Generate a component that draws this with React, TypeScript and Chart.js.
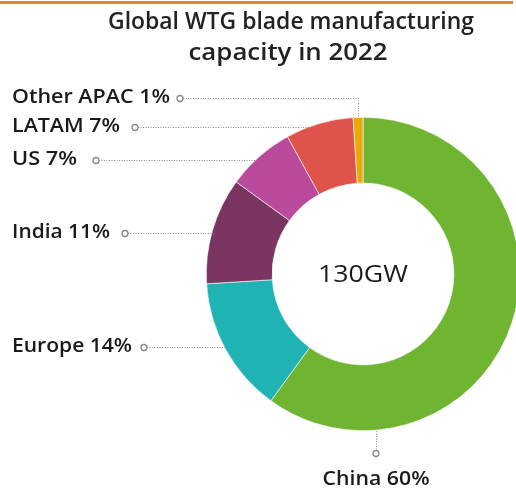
import React, { useEffect, useRef } from "react";
import { Chart, registerables } from "chart.js";

Chart.register(...registerables);

const titleLines = ["Global WTG blade manufacturing", "capacity in 2022"];
const centerLabel = "130GW";
const categories = ["China", "Europe", "India", "US", "LATAM", "Other APAC"];
const shares = [60, 14, 11, 7, 7, 1];
const sliceColors = ["#6FB532", "#20B3B4", "#7A3660", "#BA4A9B", "#DE544A", "#EBA80A"];

// label layout (text positions and rendered widths only)
const labelLayout: Record<string, { y: number; dotX: number; mode: string; w: number }> = {
  "Other APAC": { y: 98, dotX: 180, mode: "elbow", w: 158 },
  LATAM: { y: 127, dotX: 135, mode: "left", w: 108 },
  US: { y: 160, dotX: 96, mode: "left", w: 65 },
  India: { y: 233, dotX: 125, mode: "left", w: 98 },
  Europe: { y: 347, dotX: 144, mode: "left", w: 120 },
  China: { y: 480, dotX: 376, mode: "below", w: 107 },
};

const FONT = "'Open Sans', Lato, 'Noto Sans', sans-serif";

function fitText(ctx: any, txt: string, x: number, y: number, align: string, width: number) {
  const m = ctx.measureText(txt).width;
  const s = width / m;
  ctx.save();
  ctx.textAlign = "left";
  ctx.textBaseline = "middle";
  let left = x;
  if (align === "center") left = x - width / 2;
  ctx.translate(left, y);
  ctx.scale(s, 1);
  ctx.fillText(txt, 0, 0);
  ctx.restore();
}

const overlay = {
  id: "overlay",
  afterDraw(chart: any) {
    const ctx = chart.ctx;
    ctx.save();
    // top orange rule
    ctx.fillStyle = "#F08122";
    ctx.fillRect(0, 1, 513, 3);

    // title
    ctx.fillStyle = "#222";
    ctx.font = `600 23px ${FONT}`;
    fitText(ctx, titleLines[0], 291, 22, "center", 366);
    fitText(ctx, titleLines[1], 288, 53, "center", 199);

    const meta = chart.getDatasetMeta(0);
    const arcs = meta.data as any[];
    const a0 = arcs[0];
    const cx = a0.x;
    const cy = a0.y;
    const R = a0.outerRadius;

    // center text
    ctx.font = `500 24px ${FONT}`;
    ctx.fillStyle = "#1a1a1a";
    fitText(ctx, centerLabel, cx, cy + 1, "center", 90);

    categories.forEach((cat, i) => {
      const lay = labelLayout[cat];
      const arc = arcs[i];
      const txt = `${cat} ${shares[i]}%`;
      ctx.setLineDash([1, 1.5]);
      ctx.strokeStyle = "#8a8a8a";
      ctx.lineWidth = 1;
      ctx.beginPath();
      if (lay.mode === "left") {
        const dy = lay.y - cy;
        const ex = cx - Math.sqrt(Math.max(R * R - dy * dy, 0)) + 2;
        ctx.moveTo(lay.dotX + 3, lay.y + 0.5);
        ctx.lineTo(ex, lay.y + 0.5);
      } else if (lay.mode === "elbow") {
        const mid = (arc.startAngle + arc.endAngle) / 2;
        const px = cx + R * Math.cos(mid);
        const py = cy + R * Math.sin(mid);
        ctx.moveTo(lay.dotX + 3, lay.y + 0.5);
        ctx.lineTo(Math.round(px) + 0.5, lay.y + 0.5);
        ctx.lineTo(Math.round(px) + 0.5, py);
      } else {
        const dx = lay.dotX - cx;
        const ey = cy + Math.sqrt(Math.max(R * R - dx * dx, 0));
        ctx.moveTo(lay.dotX + 0.5, ey + 1);
        ctx.lineTo(lay.dotX + 0.5, lay.y - 30);
      }
      ctx.stroke();
      ctx.setLineDash([]);
      // dot
      const dotY = lay.mode === "below" ? lay.y - 27 : lay.y;
      ctx.beginPath();
      ctx.arc(lay.dotX, dotY + 0.5, 3, 0, Math.PI * 2);
      ctx.fillStyle = "#fff";
      ctx.fill();
      ctx.strokeStyle = "#8a8a8a";
      ctx.lineWidth = 1.3;
      ctx.stroke();
      // text
      ctx.fillStyle = "#1a1a1a";
      ctx.font = `600 19px ${FONT}`;
      if (lay.mode === "below") {
        fitText(ctx, txt, lay.dotX, lay.y, "center", lay.w);
      } else {
        fitText(ctx, txt, 12, lay.y, "left", lay.w);
      }
    });
    ctx.restore();
  },
};

export default function App() {
  const ref = useRef<HTMLCanvasElement | null>(null);
  useEffect(() => {
    if (!ref.current) return;
    const chart = new Chart(ref.current, {
      type: "doughnut",
      data: {
        labels: categories,
        datasets: [
          {
            data: shares,
            backgroundColor: sliceColors,
            borderColor: "#ffffff",
            borderWidth: 0.6,
          },
        ],
      },
      options: {
        responsive: false,
        animation: false,
        cutout: "58%",
        layout: { padding: { left: 206, right: 20, top: 117, bottom: 60 } },
        plugins: {
          legend: { display: false },
          tooltip: { enabled: false },
          title: { display: false },
        },
      },
      plugins: [overlay],
    });
    return () => chart.destroy();
  }, []);
  return (
    <div
      style={{
        position: "fixed",
        left: 0,
        top: 0,
        width: 516,
        height: 491,
        overflow: "hidden",
        background: "#fff",
      }}
    >
      <canvas ref={ref} width={540} height={491} style={{ width: 540, height: 491, display: "block" }} />
    </div>
  );
}
